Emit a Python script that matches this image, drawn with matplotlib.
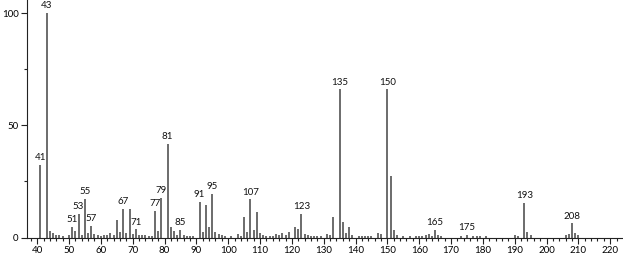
import matplotlib
matplotlib.use('Agg')
import matplotlib.pyplot as plt
from matplotlib.ticker import MultipleLocator

# m/z values and relative intensities
mz = [41, 43, 44, 45, 46, 47, 48, 50, 51, 52, 53, 54, 55, 56, 57, 58, 59, 60,
      61, 62, 63, 64, 65, 66, 67, 68, 69, 70, 71, 72, 73, 74, 75, 76, 77, 78,
      79, 81, 82, 83, 84, 85, 86, 87, 88, 89, 91, 92, 93, 94, 95, 96, 97, 98,
      99, 101, 103, 104, 105, 106, 107, 108, 109, 110, 111, 112, 113, 114, 115,
      116, 117, 118, 119, 121, 122, 123, 124, 125, 126, 127, 128, 129, 131,
      132, 133, 135, 136, 137, 138, 139, 141, 142, 143, 144, 145, 147, 148,
      150, 151, 152, 153, 155, 157, 159, 160, 161, 162, 163, 164, 165, 166,
      167, 173, 175, 177, 178, 179, 181, 190, 191, 193, 194, 195, 206, 207,
      208, 209, 210]
intensity = [32.3, 100, 3, 2, 1, 1, 0.5, 1, 4.8, 3, 10.6, 1, 17.1, 2, 5.3, 1.5,
             1, 0.5, 1, 1, 2, 1, 7.8, 2.6, 12.6, 2, 12.6, 1.5, 3.6, 1, 1, 1,
             0.8, 0.8, 11.9, 3, 17.6, 41.6, 4.5, 2.9, 1, 3.3, 1, 0.8, 0.8, 0.8,
             15.8, 2.3, 14.6, 4.5, 19.4, 2.6, 1.5, 1, 0.5, 0.5, 1.5, 0.5, 9,
             2.3, 17, 3.3, 11.2, 2, 1, 0.8, 0.8, 0.8, 1.5, 1, 1.8, 1, 2.3, 4.5,
             4, 10.5, 1.5, 1, 0.8, 0.8, 0.8, 0.5, 1.6, 1, 9, 66, 6.8, 2, 4.5,
             1, 0.8, 0.8, 0.8, 0.8, 0.5, 2.1, 1.5, 66, 27.5, 3.3, 1, 0.8, 0.8,
             0.8, 0.8, 0.8, 1, 1.5, 0.8, 3.3, 1, 0.8, 0.8, 1.2, 0.8, 0.5, 0.5,
             0.5, 1, 0.8, 15.5, 2.6, 1, 1, 1.5, 6.3, 2, 1]

labeled = [41, 43, 51, 53, 55, 57, 67, 71, 77, 79, 81, 85, 91, 95, 107, 123,
           135, 150, 165, 175, 193, 208]

plt.rcParams['font.family'] = ['Lato', 'DejaVu Sans']

fig = plt.figure(figsize=(6.23, 2.54), dpi=100)
ax = fig.add_axes([27 / 623, 16.5 / 254, 595 / 623, 237.5 / 254])

ax.vlines(mz, 0, intensity, color='#444444', lw=1.1)

# peak labels
for m, v in zip(mz, intensity):
    if m in labeled:
        ax.annotate(str(m), (m, v), xytext=(0, 2), textcoords='offset points',
                    ha='center', va='bottom', fontsize=7, color='#111111')

ax.set_xlim(36.8, 223.7)
ax.set_ylim(0, 105.8)
ax.xaxis.set_major_locator(MultipleLocator(10))
ax.xaxis.set_minor_locator(MultipleLocator(2))
ax.set_xticks(range(40, 221, 10))
ax.set_yticks([0, 50, 100])
ax.yaxis.set_minor_locator(MultipleLocator(25))
ax.tick_params(axis='both', which='major', labelsize=7, length=4, width=0.8,
               color='#222222', pad=2)
ax.tick_params(axis='both', which='minor', length=2.5, width=0.8, color='#222222')

for s in ['top', 'right']:
    ax.spines[s].set_visible(False)
for s in ['left', 'bottom']:
    ax.spines[s].set_linewidth(0.8)
    ax.spines[s].set_color('#222222')

plt.savefig('out.png', dpi=100)
